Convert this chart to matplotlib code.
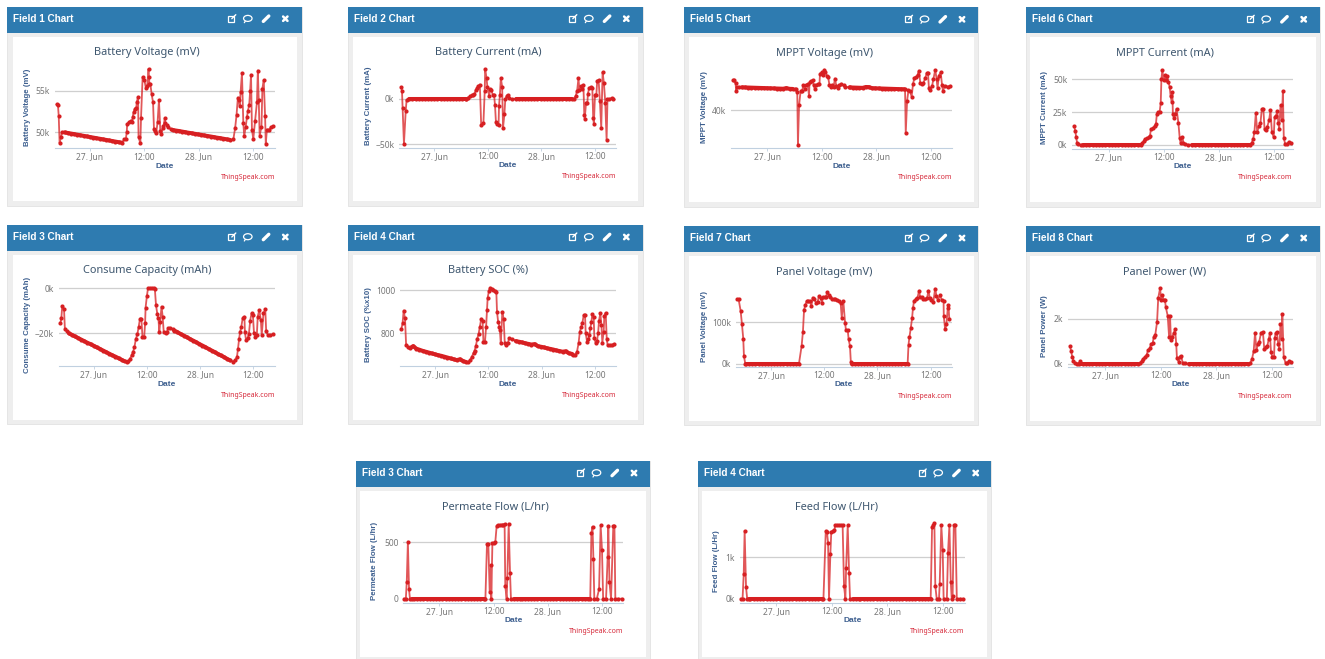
from __future__ import annotations

import matplotlib

matplotlib.use("Agg")
import matplotlib.pyplot as plt
import numpy as np
from matplotlib.patches import Ellipse, Rectangle

# hours after 27 Jun 00:00 for the long stretches where the logger barely moves
quiet_a = [-5.6, -4.9, -4.2, -3.5, -2.8, -2.1, -1.4, -0.7, 0.0, 0.7, 1.4, 2.1, 2.8, 3.5, 4.2, 4.9, 5.6, 6.3, 7.0]
quiet_b = [18.2, 18.9, 19.6, 20.3, 21.0, 21.7, 22.4, 23.1, 23.8, 24.5, 25.2, 25.9, 26.6, 27.3, 28.0, 28.7, 29.4, 30.1, 30.8]
flow_off_a = [-6.0] + quiet_a + [7.7, 8.4, 9.1, 9.8, 10.2]
flow_off_b = [16.5, 17.2, 17.9] + quiet_b + [31.5, 32.2, 32.9, 33.4]

voltage_quiet_a = [49.95, 49.88, 49.81, 49.74, 49.67, 49.6, 49.53, 49.46, 49.39, 49.32, 49.25, 49.18, 49.11, 49.04, 48.97, 48.9, 48.83, 48.76, 48.7]
voltage_quiet_b = [50.25, 50.18, 50.12, 50.05, 49.98, 49.91, 49.85, 49.78, 49.71, 49.65, 49.58, 49.51, 49.45, 49.38, 49.31, 49.25, 49.18, 49.11, 49.05]
battery_voltage = [
    (-7.35, 53.37), (-7.06, 53.25), (-6.9, 52.0), (-6.7, 48.66), (-6.4, 49.4), (-6.2, 49.96),
    (7.6, 49.1), (7.9, 49.15), (8.1, 50.0), (8.2, 51.0), (8.6, 51.2), (9.0, 51.4), (9.3, 51.2), (9.4, 51.8),
    (9.6, 52.4), (9.9, 52.85), (10.2, 52.9), (10.3, 53.6), (10.6, 54.3), (10.7, 49.4), (11.1, 48.6), (11.25, 51.75),
    (11.6, 56.7), (12.0, 56.3), (12.3, 55.4), (12.6, 55.6), (12.9, 57.7), (13.0, 56.75), (13.1, 55.8), (13.3, 55.85),
    (13.6, 54.6), (13.9, 53.6), (14.1, 50.4), (14.4, 50.15), (14.6, 49.9), (14.9, 51.2), (15.2, 53.9), (15.5, 50.15),
    (15.7, 49.75), (16.0, 50.45), (16.2, 50.7), (16.5, 51.7), (16.6, 51.15), (16.9, 50.85), (17.3, 50.55), (17.8, 50.35),
    (31.6, 49.1), (32.0, 50.5), (32.3, 52.05), (32.6, 54.2), (32.8, 53.9), (33.0, 53.2), (33.2, 54.85), (33.5, 57.2),
    (33.8, 51.05), (34.0, 49.5), (34.3, 50.55), (34.6, 51.8), (34.8, 52.55), (35.1, 53.3), (35.3, 55.0), (35.5, 57.0),
    (35.7, 50.3), (36.0, 49.15), (36.4, 51.4), (36.8, 53.6), (37.0, 57.5), (37.2, 53.9), (37.4, 49.55), (37.8, 50.65),
    (38.0, 55.3), (38.3, 56.3), (38.6, 51.9), (38.75, 48.55), (39.0, 50.3), (39.5, 50.3), (39.9, 50.6), (40.3, 50.7),
]

battery_current = [
    (-7.46, 13.2), (-7.24, 9.2), (-7.1, -9.9), (-6.8, -49.6), (-6.4, -12.9), (-6.2, -0.7),
    (7.2, 0.0), (7.5, 1.5), (8.0, 3.0), (8.4, 4.0), (8.7, 4.4), (9.0, 5.5), (9.3, 10.0), (9.6, 11.8), (9.9, 14.0),
    (10.2, 16.0), (10.5, -28.3), (11.0, -26.8), (11.3, 9.2), (11.4, 33.0), (11.7, 23.0), (11.9, 12.9), (12.3, 3.3),
    (12.5, 10.7), (12.8, 9.6), (13.1, 4.4), (13.4, 4.4), (13.6, -7.0), (13.8, -25.0), (14.1, -27.6), (14.4, -28.3),
    (14.5, -7.3), (14.7, 4.8), (14.9, 23.0), (15.2, 13.6), (15.4, -31.6), (15.7, -17.0), (15.9, -0.4), (16.2, 3.3),
    (16.4, 4.4), (16.7, 0.7), (17.3, -0.4),
    (31.3, 0.5), (31.7, 3.7), (32.0, 9.2), (32.3, 23.0), (32.5, 10.0), (32.8, 14.3), (33.0, 11.0), (33.4, 15.8),
    (33.6, -17.6), (33.7, -21.7), (34.0, -4.0), (34.3, -4.0), (34.4, 5.5), (34.7, 12.5), (35.0, 12.9), (35.4, 12.1),
    (35.6, -21.3), (35.75, -27.6), (36.0, 4.8), (36.3, 4.8), (36.5, 20.2), (36.8, 21.0), (37.1, -1.8), (37.4, -32.0),
    (37.7, 29.4), (38.0, 17.3), (38.3, -4.0), (38.6, -44.9), (38.8, 0.0), (39.2, 0.0), (39.7, 1.1), (40.1, 0.4),
]

mppt_quiet_a = [50.45, 50.4, 50.35, 50.3, 50.25, 50.2, 50.15, 50.1, 50.05, 50.0, 49.95, 49.9, 49.85, 49.8, 50.1, 49.75, 49.7]
mppt_quiet_b = [50.4, 50.35, 50.3, 50.25, 50.2, 50.6, 50.55, 50.05, 50.0, 49.95, 49.9, 49.85, 49.8, 49.75, 49.7, 49.65, 49.6, 49.55]
mppt_voltage = [
    (-7.57, 53.85), (-7.3, 53.7), (-7.0, 52.3), (-6.85, 48.9), (-6.6, 50.5), (-6.2, 50.5),
    (6.1, 49.7), (6.4, 49.6), (6.6, 48.5), (6.75, 24.0), (7.0, 42.2), (7.35, 48.9), (7.7, 48.9),
    (7.9, 51.4), (8.2, 49.85), (8.5, 51.5), (8.9, 52.15), (9.2, 46.3), (9.3, 52.8), (9.7, 53.4), (10.0, 53.7),
    (10.2, 51.5), (10.5, 49.5), (10.7, 51.4), (11.1, 51.85), (11.5, 51.85), (11.6, 56.8), (12.0, 57.4), (12.3, 56.15),
    (12.6, 58.6), (12.8, 57.7), (13.1, 55.85), (13.4, 55.1), (13.7, 51.5), (14.0, 50.5), (14.3, 51.7), (14.6, 50.5),
    (14.9, 54.5), (15.2, 51.2), (15.6, 50.0), (15.9, 51.4), (16.3, 52.15), (16.8, 51.4), (17.2, 50.8), (17.9, 50.5),
    (30.35, 49.5), (30.5, 29.2), (30.8, 44.3), (31.1, 49.0), (31.4, 48.7),
    (31.8, 46.2), (32.1, 51.85), (32.4, 54.9), (32.8, 55.2), (33.1, 56.15), (33.4, 58.15), (33.7, 52.6), (34.0, 52.0),
    (34.4, 52.6), (34.8, 54.6), (35.1, 56.9), (35.4, 57.2), (35.6, 50.3), (35.9, 49.2), (36.3, 51.0), (36.6, 54.3),
    (37.0, 58.5), (37.3, 54.3), (37.5, 50.0), (37.8, 55.85), (38.2, 57.4), (38.5, 51.5), (38.7, 48.9), (39.1, 51.2),
    (39.8, 50.8), (40.3, 51.1),
]

mppt_current = [
    (-7.56, 14.2), (-7.27, 10.2), (-7.1, 5.6), (-6.9, 1.5), (-6.6, 0.3), (-6.1, 0.0),
    (7.2, 1.0), (7.6, 2.5), (7.9, 4.0), (8.4, 5.0), (8.7, 5.6), (9.0, 6.6), (9.2, 11.7), (9.6, 12.5), (10.0, 14.2),
    (10.3, 15.8), (10.5, 23.2), (10.8, 25.2), (11.1, 24.7), (11.35, 31.8), (11.5, 49.9), (11.7, 57.0), (12.0, 49.4),
    (12.3, 53.2), (12.6, 49.4), (12.8, 52.4), (13.0, 48.3), (13.3, 44.3), (13.5, 37.4), (13.75, 32.8), (13.9, 40.0),
    (14.0, 23.4), (14.25, 20.1), (14.5, 23.4), (14.8, 27.5), (15.2, 16.8), (15.5, 4.8), (15.7, 1.0), (16.1, 5.6),
    (16.3, 1.5), (16.65, 0.5), (17.4, 0.0),
    (31.2, 1.5), (31.5, 4.0), (31.8, 9.9), (32.1, 24.4), (32.4, 9.9), (32.8, 14.2), (33.1, 16.3), (33.4, 27.0),
    (33.75, 27.0), (34.0, 12.0), (34.3, 11.2), (34.6, 13.7), (35.0, 18.8), (35.3, 26.5), (35.6, 9.9), (36.0, 5.6),
    (36.2, 20.9), (36.5, 22.1), (36.8, 25.7), (37.0, 16.8), (37.2, 12.0), (37.5, 30.3), (37.8, 18.8), (38.0, 41.2),
    (38.2, 5.3), (38.5, 0.5), (38.9, 0.5), (39.3, 2.3), (39.85, 1.0),
]

capacity_quiet_a = [-20.0, -20.7, -21.4, -22.1, -22.8, -23.5, -24.2, -24.8, -25.5, -26.2, -26.9, -27.6, -28.3, -29.0, -29.7, -30.3, -31.0, -31.7, -32.4]
capacity_quiet_b = [-18.8, -19.5, -20.3, -21.0, -21.7, -22.5, -23.2, -23.9, -24.7, -25.4, -26.1, -26.9, -27.6, -28.3, -29.1, -29.8, -30.5, -31.3, -32.0]
consume_capacity = [
    (-7.5, -15.3), (-7.3, -13.4), (-7.1, -8.1), (-6.7, -9.1), (-6.5, -18.1), (-6.1, -19.0),
    (7.4, -32.7), (7.8, -32.4), (8.2, -31.2), (8.6, -29.6), (8.9, -28.1), (9.2, -25.9), (9.5, -22.6), (9.85, -20.4),
    (10.15, -17.0), (10.45, -13.5), (10.75, -13.5), (11.0, -21.5), (11.4, -21.5), (11.6, -15.3), (11.7, -8.7),
    (12.0, -3.5), (12.25, -0.1), (12.7, 0.0), (13.2, 0.0), (13.5, -0.1), (13.8, -0.6), (14.05, -7.5), (14.35, -11.5),
    (14.6, -13.4), (14.8, -19.6), (15.0, -14.9), (15.3, -8.2), (15.55, -12.6), (15.8, -19.6), (16.2, -20.0),
    (16.5, -19.3), (16.8, -17.8), (17.2, -17.5), (17.8, -18.1),
    (31.5, -32.6), (31.9, -31.8), (32.3, -30.6), (32.55, -26.8), (32.8, -22.4), (33.0, -19.6), (33.3, -17.0),
    (33.6, -13.4), (34.0, -12.6), (34.1, -19.3), (34.35, -22.9), (34.7, -22.2), (35.0, -20.4), (35.3, -14.4),
    (35.6, -11.2), (35.9, -11.9), (36.15, -19.7), (36.45, -21.8), (36.8, -20.7), (37.0, -12.6), (37.35, -9.7),
    (37.7, -14.1), (37.9, -20.7), (38.3, -11.2), (38.7, -9.4), (38.9, -18.8), (39.25, -20.7), (39.8, -20.9), (40.5, -20.4),
]

soc_quiet_a = [732, 741, 729, 724, 719, 715, 711, 707, 703, 699, 696, 692, 688, 684, 680, 676, 680, 672, 667]
soc_quiet_b = [764, 761, 758, 754, 751, 748, 750, 741, 738, 735, 731, 728, 725, 721, 718, 715, 717, 708, 705]
battery_soc = [
    (-7.6, 818), (-7.3, 846), (-7.05, 905), (-6.75, 869), (-6.5, 746), (-6.15, 738),
    (7.5, 666), (7.9, 677), (8.3, 692), (8.7, 711), (8.9, 720), (9.2, 742), (9.5, 774), (9.8, 797), (10.1, 831),
    (10.4, 868), (10.7, 857), (10.9, 762), (11.25, 762), (11.5, 831), (11.7, 908), (11.85, 965), (12.15, 997),
    (12.4, 1011), (12.75, 1003), (13.1, 1000), (13.5, 997), (13.8, 991), (13.95, 900), (14.2, 854), (14.5, 831),
    (14.6, 815), (14.8, 754), (15.15, 900), (15.45, 865), (15.7, 754), (16.0, 746), (16.35, 754), (16.7, 777), (17.25, 775),
    (31.1, 700), (31.5, 700), (31.95, 715), (32.3, 754), (32.6, 808), (32.85, 828), (33.15, 846), (33.45, 883),
    (33.75, 885), (33.9, 803), (34.2, 762), (34.5, 772), (34.7, 791), (34.95, 823), (35.2, 854), (35.4, 889),
    (35.7, 877), (35.85, 780), (36.15, 754), (36.45, 766), (36.7, 800), (36.9, 858), (37.2, 892), (37.45, 838),
    (37.65, 757), (37.95, 808), (38.1, 880), (38.4, 895), (38.65, 772), (38.85, 745), (39.4, 745), (39.75, 746), (40.3, 751),
]

panel_voltage = [
    (-7.6, 155.6), (-7.3, 155.6), (-6.85, 128), (-6.55, 96), (-6.25, 60), (-6.1, 18.5), (-5.8, 0),
    (6.9, 42.7), (7.2, 77.4), (7.45, 130), (7.75, 142), (8.05, 151.6), (8.4, 151.6), (8.7, 151.6), (9.1, 139.5),
    (9.4, 159.7), (9.8, 155.6), (10.15, 147.6), (10.5, 149), (10.8, 163), (11.2, 158), (11.5, 146.8), (11.7, 160.5),
    (12.1, 160.5), (12.4, 162), (12.7, 173), (13.0, 166), (13.4, 160.5), (13.8, 157), (14.1, 155.6), (14.5, 155.6),
    (14.9, 154.8), (15.3, 151.6), (15.7, 146), (15.95, 111), (16.3, 151.6), (16.7, 99), (16.9, 80.6), (17.3, 80.6),
    (17.5, 58.9), (17.8, 42.7), (18.0, 3),
    (31.0, 46), (31.2, 63.7), (31.5, 85.5), (31.8, 109.7), (32.0, 133.9), (32.25, 152.4), (32.6, 155.6), (33.0, 158.9),
    (33.4, 176.6), (33.6, 160.5), (34.0, 160.5), (34.35, 156.5), (34.8, 155.6), (35.2, 159.7), (35.5, 176.6),
    (35.8, 158), (36.15, 153.2), (36.6, 150), (37.0, 181.5), (37.3, 163.7), (37.6, 154), (38.1, 165.3), (38.5, 154),
    (38.9, 151.6), (38.95, 115), (39.25, 83), (39.55, 96), (39.85, 134), (40.0, 142), (40.2, 107),
]

panel_power = [
    (-7.65, 0.785), (-7.4, 0.56), (-7.15, 0.31), (-6.9, 0.1), (-6.55, 0.015), (-6.05, 0.0), (-5.5, 0.1),
    (7.5, 0.04), (7.9, 0.12), (8.2, 0.22), (8.6, 0.31), (8.95, 0.4), (9.25, 0.6), (9.6, 0.68), (9.9, 0.86), (10.25, 0.92),
    (10.5, 1.2), (10.8, 1.27), (11.2, 1.85), (11.45, 2.92), (11.85, 3.35), (12.1, 2.83), (12.35, 3.05), (12.6, 2.83),
    (12.9, 2.83), (13.1, 2.5), (13.5, 2.13), (13.8, 1.2), (14.0, 2.13), (14.2, 1.05), (14.5, 1.2), (14.8, 1.35),
    (15.1, 1.53), (15.35, 0.86), (15.5, 0.24), (15.9, 0.07), (16.1, 0.31), (16.4, 0.34), (16.75, 0.04), (17.25, 0.015),
    (31.4, 0.04), (31.75, 0.22), (32.1, 0.56), (32.4, 1.38), (32.7, 0.6), (33.0, 0.87), (33.3, 0.98), (33.7, 1.38),
    (34.1, 1.4), (34.4, 0.64), (34.8, 0.75), (35.05, 0.785), (35.35, 1.08), (35.6, 1.35), (35.85, 0.5), (36.15, 0.31),
    (36.5, 0.28), (36.65, 1.14), (36.85, 1.35), (37.15, 1.4), (37.4, 0.87), (37.65, 0.64), (37.9, 1.75), (38.15, 1.1),
    (38.3, 2.2), (38.6, 0.28), (39.0, 0.04), (39.3, 0.04), (39.75, 0.1), (40.25, 0.06),
]

permeate_flow = [
    (-7.75, 0), (-7.4, 0), (-7.2, 151), (-6.95, 506), (-6.7, 83), (-6.5, 0),
    (10.55, 485), (10.85, 482), (11.15, 62), (11.45, 296), (11.5, 0), (11.75, 491), (12.1, 494), (12.4, 506),
    (12.7, 648), (13.05, 651), (13.45, 654), (13.8, 657), (14.15, 657), (14.45, 660), (14.6, 112), (14.9, 0),
    (15.05, 180), (15.35, 666), (15.65, 228), (15.85, 0),
    (33.65, 580), (33.9, 639), (34.1, 352), (34.3, 0), (34.85, 0), (35.35, 83), (35.7, 651), (36.0, 432), (36.25, 0),
    (36.9, 0), (37.25, 367), (37.4, 648), (37.65, 145), (38.0, 0), (38.5, 645), (38.75, 648), (38.95, 0), (39.6, 0), (40.35, 0),
]

feed_flow = [
    (-7.7, 0), (-7.3, 0), (-7.05, 0.59), (-6.85, 1.64), (-6.55, 0.28), (-6.3, 0),
    (10.7, 1.64), (10.95, 1.62), (11.2, 1.35), (11.4, 0), (11.7, 1.09), (11.9, 1.62), (12.25, 1.63), (12.55, 1.65),
    (12.75, 1.77), (13.1, 1.77), (13.55, 1.77), (13.9, 1.77), (14.35, 1.77), (14.65, 0.31), (14.95, 0), (15.1, 0.73),
    (15.45, 1.77), (15.75, 0.61), (15.95, 0),
    (33.7, 1.73), (34.0, 1.77), (34.2, 1.82), (34.4, 0.31), (34.7, 0), (35.2, 0), (35.35, 0.36), (35.7, 1.77), (36.0, 1.18),
    (36.2, 0), (36.9, 0), (37.15, 1.11), (37.45, 1.77), (37.75, 0.4), (37.95, 0), (38.15, 0.07), (38.4, 1.78), (38.75, 1.77),
    (39.05, 0), (39.75, 0), (40.3, 0),
]


def zeros(hours):
    return hours, [0.0] * len(hours)


def merge_series(points, *runs):
    merged = list(points)
    for hours, values in runs:
        merged.extend(zip(hours, values))
    merged.sort(key=lambda pair: pair[0])
    return np.array(merged, dtype=float).T


# each entry: the busy points and the two quiet runs between them
sources = {
    "voltage": (battery_voltage, (quiet_a, voltage_quiet_a), (quiet_b, voltage_quiet_b)),
    "current": (battery_current, zeros(quiet_a), zeros(quiet_b)),
    "mppt_v": (mppt_voltage, (quiet_a[:17], mppt_quiet_a), (quiet_b[:18], mppt_quiet_b)),
    "mppt_i": (mppt_current, zeros(quiet_a), zeros(quiet_b)),
    "capacity": (consume_capacity, (quiet_a, capacity_quiet_a), (quiet_b, capacity_quiet_b)),
    "soc": (battery_soc, (quiet_a, soc_quiet_a), (quiet_b, soc_quiet_b)),
    "panel_v": (panel_voltage, zeros(quiet_a[:18]), zeros(quiet_b)),
    "panel_p": (panel_power, zeros(quiet_a), zeros(quiet_b)),
    "permeate": (permeate_flow, zeros(flow_off_a), zeros(flow_off_b)),
    "feed": (feed_flow, zeros(flow_off_a), zeros(flow_off_b)),
}

# card box, plot box and value calibration in picture pixels
panels = [
    dict(key="voltage", field="Field 1 Chart", title="Battery Voltage (mV)", ylabel="Battery Voltage (mV)",
         card=(7.3, 6.7, 301.7, 205.7), white=(12.5, 37, 297, 201), plot=(55, 275, 148.3), ticks=(90, 253.3),
         cal=((55, 91), (50, 132)), yticks=[50, 55], ylabels=["50k", "55k"], title_x=147, ylabel_xy=(28, 107)),
    dict(key="current", field="Field 2 Chart", title="Battery Current (mA)", ylabel="Battery Current (mA)",
         card=(348.3, 6.7, 643, 205.7), white=(352.7, 37, 638, 201), plot=(399.3, 616, 147.7), ticks=(434.3, 595),
         cal=((0, 99), (-50, 144.3)), yticks=[-50, 0], ylabels=["\u221250k", "0k"], title_x=488, ylabel_xy=(368, 106)),
    dict(key="mppt_v", field="Field 5 Chart", title="MPPT Voltage (mV)", ylabel="MPPT Voltage (mV)",
         card=(684, 7.3, 978.3, 206.7), white=(689, 37.3, 974, 202.3), plot=(731, 952, 148.3), ticks=(767.3, 930.7),
         cal=((40, 110), (50, 88.3)), yticks=[40], ylabels=["40k"], title_x=824, ylabel_xy=(704, 107)),
    dict(key="mppt_i", field="Field 6 Chart", title="MPPT Current (mA)", ylabel="MPPT Current (mA)",
         card=(1025.7, 7.3, 1320.3, 206.7), white=(1030, 37.3, 1315.7, 202.3), plot=(1072.3, 1292.7, 148.7), ticks=(1108.7, 1273.7),
         cal=((50, 79.3), (0, 144.7)), yticks=[0, 25, 50], ylabels=["0k", "25k", "50k"], title_x=1165, ylabel_xy=(1045, 107)),
    dict(key="capacity", field="Field 3 Chart", title="Consume Capacity (mAh)", ylabel="Consume Capacity (mAh)",
         card=(7.3, 225, 301.7, 424.3), white=(12.5, 255.3, 297, 420), plot=(58.7, 275, 366.3), ticks=(93.7, 253.3),
         cal=((0, 288), (-20, 333.3)), yticks=[-20, 0], ylabels=["\u221220k", "0k"], title_x=147, ylabel_xy=(28, 325)),
    dict(key="soc", field="Field 4 Chart", title="Battery SOC (%)", ylabel="Battery SOC (%x10)",
         card=(348.3, 225, 643, 424.3), white=(352.7, 255.3, 638, 420), plot=(400, 616, 366.3), ticks=(435, 595),
         cal=((1000, 290), (800, 333.3)), yticks=[800, 1000], ylabels=["800", "1000"], title_x=488, ylabel_xy=(368, 325)),
    dict(key="panel_v", field="Field 7 Chart", title="Panel Voltage (mV)", ylabel="Panel Voltage (mV)",
         card=(684, 226, 978.3, 425.3), white=(689, 256.3, 974, 421), plot=(736, 952, 367), ticks=(771, 930.7),
         cal=((100, 322.3), (0, 363.7)), yticks=[0, 100], ylabels=["0k", "100k"], title_x=824, ylabel_xy=(704, 326)),
    dict(key="panel_p", field="Field 8 Chart", title="Panel Power (W)", ylabel="Panel Power (W)",
         card=(1025.7, 226, 1320.3, 425.3), white=(1030, 256.3, 1315.7, 421), plot=(1068.3, 1292.7, 367), ticks=(1105.3, 1271.7),
         cal=((2, 318.7), (0, 363.7)), yticks=[0, 2], ylabels=["0k", "2k"], title_x=1165, ylabel_xy=(1045, 326)),
    dict(key="permeate", field="Field 3 Chart", title="Permeate Flow (L/hr)", ylabel="Permeate Flow (L/hr)",
         card=(356, 461, 649.5, 659), white=(360.3, 491, 646, 657), plot=(403.3, 623.3, 602.7), ticks=(439.3, 602),
         cal=((500, 542.3), (0, 598.7)), yticks=[0, 500], ylabels=["0", "500"], title_x=495.7, ylabel_xy=(375, 561)),
    dict(key="feed", field="Field 4 Chart", title="Feed Flow (L/Hr)", ylabel="Feed Flow (L/Hr)",
         card=(697.7, 461, 991.3, 659), white=(702, 491, 987, 657), plot=(740, 964.7, 602.7), ticks=(776.3, 942.7),
         cal=((1, 557.3), (0, 598.7)), yticks=[0, 1], ylabels=["0k", "1k"], title_x=836.7, ylabel_xy=(717, 561)),
]

WIDTH, HEIGHT = 1325, 659
RED = "#d71f22"
HEADER = "#2e7bb0"
FONT = "Noto Sans"
BOLD_FONT = "Liberation Sans"

figure = plt.figure(figsize=(WIDTH / 100, HEIGHT / 100), dpi=100, facecolor="white")
overlay = figure.add_axes([0, 0, 1, 1])
overlay.set_xlim(0, WIDTH)
overlay.set_ylim(HEIGHT, 0)
overlay.axis("off")


def draw_icons(x0, yc):
    white = dict(color="white", solid_capstyle="round")
    # open-in-window
    overlay.add_patch(Rectangle((x0 + 221, yc - 3), 6, 6, fill=False, ec="white", lw=0.9))
    overlay.plot([x0 + 224.5, x0 + 228.5], [yc, yc - 4], lw=1.0, **white)
    # comment bubble
    overlay.add_patch(Ellipse((x0 + 240.5, yc - 0.3), 8.5, 6, fill=False, ec="white", lw=0.9))
    overlay.plot([x0 + 238, x0 + 237], [yc + 2.5, yc + 4], lw=0.9, **white)
    # pencil
    overlay.plot([x0 + 256, x0 + 261.5], [yc + 2.7, yc - 2.7], lw=2.4, **white)
    # close
    overlay.plot([x0 + 275.8, x0 + 280.2], [yc - 2.2, yc + 2.2], lw=1.8, **white)
    overlay.plot([x0 + 275.8, x0 + 280.2], [yc + 2.2, yc - 2.2], lw=1.8, **white)


for panel in panels:
    x0, y0, x1, y1 = panel["card"]
    overlay.add_patch(Rectangle((x0, y0), x1 - x0, y1 - y0, fc="#eeeeee", ec="#e2e2e2", lw=0.6))
    overlay.add_patch(Rectangle((x0, y0), x1 - x0, 26, fc=HEADER, ec="none"))
    wx0, wy0, wx1, wy1 = panel["white"]
    overlay.add_patch(Rectangle((wx0, wy0), wx1 - wx0, wy1 - wy0, fc="white", ec="none"))
    yc = y0 + 12
    overlay.text(x0 + 6, yc, panel["field"], color="white", fontsize=7.2, fontweight="bold",
                 family=BOLD_FONT, ha="left", va="center")
    draw_icons(x0, yc)

    left, right, base = panel["plot"]
    top = base - 92
    axis = figure.add_axes([left / WIDTH, 1 - base / HEIGHT, (right - left) / WIDTH, (base - top) / HEIGHT])
    axis.patch.set_alpha(0)

    (v1, p1), (v2, p2) = panel["cal"]
    per_px = (v1 - v2) / (p2 - p1)
    axis.set_ylim(v2 - (base - p2) * per_px, v1 + (p1 - top) * per_px)
    t0, t36 = panel["ticks"]
    per_hour = (t36 - t0) / 36
    axis.set_xlim((left - t0) / per_hour, (right - t0) / per_hour)

    points, run_a, run_b = sources[panel["key"]]
    hours, values = merge_series(points, run_a, run_b)
    axis.plot(hours, values, color=RED, lw=1.3, alpha=0.75, clip_on=False, zorder=3)
    axis.plot(hours, values, ls="none", marker="o", ms=3.0, mfc=RED, mec=RED, mew=0, clip_on=False, zorder=4)
    # markers sit so close in the quiet runs that they read as one thick band
    for run_hours, run_values in (run_a, run_b):
        axis.plot(run_hours, run_values[:len(run_hours)], color=RED, lw=2.9, solid_capstyle="round",
                  clip_on=False, zorder=4)

    for side in ("top", "left", "right"):
        axis.spines[side].set_visible(False)
    axis.spines["bottom"].set_color("#c0d0e0")
    axis.spines["bottom"].set_linewidth(0.8)
    axis.set_yticks(panel["yticks"], panel["ylabels"])
    axis.grid(axis="y", color="#cfcfcf", lw=0.9)
    axis.set_axisbelow(True)
    axis.tick_params(axis="y", length=0, pad=3.5, labelsize=6.1, labelcolor="#777777")
    axis.set_xticks([0, 12, 24, 36], ["27. Jun", "12:00", "28. Jun", "12:00"])
    axis.tick_params(axis="x", length=2.5, width=0.6, color="#c0d0e0", pad=0.6, labelsize=6.1, labelcolor="#777777")
    for label in axis.get_xticklabels() + axis.get_yticklabels():
        label.set_family(FONT)

    centre = (left + right) / 2
    overlay.text(panel["title_x"], y0 + 46, panel["title"], color="#3e576f", fontsize=7.9, family=FONT,
                 ha="center", va="center")
    xl, yl = panel["ylabel_xy"]
    overlay.text(xl, yl, panel["ylabel"], color="#3d5f8f", fontsize=5.7, fontweight="bold", family=BOLD_FONT,
                 rotation=90, ha="center", va="center")
    overlay.text(centre, base + 18, "Date", color="#3d5f8f", fontsize=6.0, fontweight="bold", family=BOLD_FONT,
                 ha="center", va="center")
    overlay.text(right, base + 29, "ThingSpeak.com", color="#d6293a", fontsize=5.0, family=FONT,
                 ha="right", va="center")

figure.savefig("out.png", dpi=100)
plt.close(figure)
